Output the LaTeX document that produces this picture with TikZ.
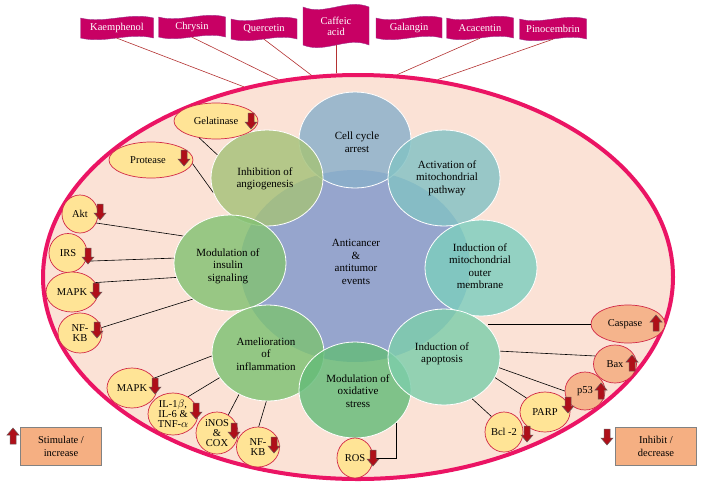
\documentclass[tikz,border=0pt]{standalone}
\usepackage{fontspec}
\setmainfont{Liberation Serif}
\usetikzlibrary{shapes.geometric}
\definecolor{rim}{RGB}{235,20,100}
\definecolor{peach}{RGB}{251,226,214}
\definecolor{flagc}{RGB}{200,0,100}
\definecolor{flagb}{RGB}{160,50,140}
\definecolor{flagline}{RGB}{180,50,50}
\definecolor{centerc}{RGB}{150,165,205}
\definecolor{cellc}{RGB}{137,175,202}
\definecolor{actc}{RGB}{131,194,196}
\definecolor{inhc}{RGB}{165,194,121}
\definecolor{ommc}{RGB}{125,206,190}
\definecolor{insc}{RGB}{131,194,115}
\definecolor{amec}{RGB}{125,194,115}
\definecolor{oxic}{RGB}{100,188,121}
\definecolor{apoc}{RGB}{125,206,171}
\definecolor{ovaly}{RGB}{255,228,150}
\definecolor{ovalo}{RGB}{245,180,140}
\definecolor{ovalb}{RGB}{210,40,70}
\definecolor{arrowf}{RGB}{175,15,25}
\definecolor{arrowd}{RGB}{110,90,90}
\definecolor{legf}{RGB}{245,175,130}
\definecolor{legb}{RGB}{130,130,130}
\tikzset{
  petal/.style={ellipse, minimum width=112, minimum height=96, inner sep=0, draw=white, line width=0.8, fill opacity=0.82},
  ptext/.style={align=center, font=\fontsize{11}{12.5}\selectfont, inner sep=0},
  oval/.style={ellipse, draw=ovalb, line width=0.7, fill=ovaly, inner sep=0, align=center, font=\fontsize{10.5}{10.5}\selectfont},
  ovalor/.style={oval, fill=ovalo},
  link/.style={draw=black, line width=0.6},
  flagst/.style={fill=flagc, draw=flagb, line width=0.4},
  flagtext/.style={text=white, align=center, inner sep=0, font=\fontsize{10.5}{11}\selectfont},
  flaglink/.style={draw=flagline, line width=0.6},
  arrowst/.style={fill=arrowf, draw=arrowd, line width=0.5},
  legbox/.style={rectangle, fill=legf, draw=legb, line width=0.9, minimum width=81, minimum height=38, align=center, inner sep=0, font=\fontsize{10.5}{13}\selectfont}
}
\newcommand\arrowdn[2]{\filldraw[arrowst] ({#1-3},{#2-8}) -- ({#1+3},{#2-8}) -- ({#1+3},{#2+1}) -- ({#1+6},{#2+1}) -- (#1,{#2+8}) -- ({#1-6},{#2+1}) -- ({#1-3},{#2+1}) -- cycle;}
\newcommand\arrowupp[2]{\filldraw[arrowst] ({#1-3},{#2+8}) -- ({#1+3},{#2+8}) -- ({#1+3},{#2-1}) -- ({#1+6},{#2-1}) -- (#1,{#2-8}) -- ({#1-6},{#2-1}) -- ({#1-3},{#2-1}) -- cycle;}
\newcommand\flag[7]{%
  \filldraw[flagst] ({#2-#4/2},{#3-#5/2}) .. controls ({#2-#4/6},{#3-#5/2+#7}) and ({#2+#4/6},{#3-#5/2-#7}) .. ({#2+#4/2},{#3-#5/2}) -- ({#2+#4/2},{#3+#5/2}) .. controls ({#2+#4/6},{#3+#5/2-#7}) and ({#2-#4/6},{#3+#5/2+#7}) .. ({#2-#4/2},{#3+#5/2}) -- cycle;
  \node[flagtext, minimum width=#4, minimum height=#5] (#1) at (#2,#3) {#6};}
\begin{document}
\begin{tikzpicture}[x=1pt,y=-1pt]
\useasboundingbox (0,0) rectangle (703,488);
\fill[white] (0,0) rectangle (703,488);
% outer ellipse
\node[ellipse, minimum width=630, minimum height=404, inner sep=0, draw=rim, line width=4, fill=peach] (outer) at (358,277) {};
% flags
\flag{kae}{117}{28}{73}{20}{Kaemphenol}{6}
\flag{chr}{192}{27}{67}{20}{Chrysin}{6}
\flag{que}{264}{29}{66}{20}{Quercetin}{6}
\flag{caf}{336}{26}{66}{38}{Caffeic\\acid}{9}
\flag{gal}{409}{28}{66}{20}{Galangin}{6}
\flag{aca}{480}{28}{67}{20}{Acacentin}{6}
\flag{pin}{553}{29}{67}{20}{Pinocembrin}{6}
\draw[flaglink] (kae.south) -- (outer.121);
\draw[flaglink] (chr.south) -- (outer.112);
\draw[flaglink] (que.south) -- (outer.103);
\draw[flaglink] (caf.south) -- (caf.south |- outer.north);
\draw[flaglink] (aca.south) -- (outer.79.5);
\draw[flaglink] (pin.south) -- (outer.68.5);
% center
\node[ellipse, minimum width=230, minimum height=192, inner sep=0, fill=centerc] (center) at (355,266) {};
% petals
\node[petal, fill=cellc] (cell) at (355,140) {};
\node[petal, fill=actc] (act) at (444,178) {};
\node[petal, fill=inhc] (inh) at (267,178) {};
\node[petal, fill=ommc] (omm) at (481,268) {};
\node[petal, fill=insc] (ins) at (230,263) {};
\node[petal, fill=amec] (ame) at (268,353) {};
\node[petal, fill=oxic] (oxi) at (355,390) {};
\node[petal, fill=apoc] (apo) at (444,357) {};
% texts
\node[ptext] (centert) at (356,262) {Anticancer\\\&\\antitumor\\events};
\node[ptext] (cellt) at (357,142) {Cell cycle\\arrest};
\node[ptext] (actt) at (447,178) {Activation of\\mitochondrial\\pathway};
\node[ptext] (inht) at (265,179) {Inhibition of\\angiogenesis};
\node[ptext] (ommt) at (480,266) {Induction of\\mitochondrial\\outer\\membrane};
\node[ptext] (inst) at (228,266) {Modulation of\\insulin\\signaling};
\node[ptext] (amet) at (266,354) {Amelioration\\of\\inflammation};
\node[ptext] (oxit) at (358,391) {Modulation of\\oxidative\\stress};
\node[ptext] (apot) at (442,354) {Induction of\\apoptosis};
% small ovals
\node[oval, minimum width=84, minimum height=36] (gel) at (216,121) {Gelatinase};
\node[oval, minimum width=84, minimum height=36] (pro) at (151,160) {\hspace*{-6pt}Protease};
\node[oval, minimum width=36, minimum height=38] (akt) at (80,214) {Akt};
\node[oval, minimum width=38, minimum height=39] (irs) at (68,253) {IRS};
\node[oval, minimum width=52, minimum height=40] (mapka) at (72,292) {MAPK};
\node[oval, minimum width=44, minimum height=40] (nfkba) at (80,333) {NF-\\KB};
\node[oval, minimum width=50, minimum height=40] (mapkb) at (132,388) {MAPK};
\node[oval, minimum width=50, minimum height=42, font=\fontsize{10.5}{10}\selectfont] (il) at (173,414) {IL-1$\beta$,\\IL-6 \&\\TNF-$\alpha$};
\node[oval, minimum width=42, minimum height=42, font=\fontsize{10.5}{10}\selectfont] (inos) at (217,433) {iNOS\\\&\\COX};
\node[oval, minimum width=43, minimum height=40] (nfkbb) at (258,447) {NF-\\KB};
\node[oval, minimum width=36, minimum height=40] (ros) at (355,458) {ROS};
\node[oval, minimum width=38, minimum height=40] (bcl) at (504,432) {Bcl -2};
\node[oval, minimum width=50, minimum height=40] (parp) at (545,412) {PARP};
\node[ovalor, minimum width=40, minimum height=38] (p53) at (585,391) {p53};
\node[ovalor, minimum width=43, minimum height=38] (bax) at (615,364) {Bax};
\node[ovalor, minimum width=74, minimum height=38] (casp) at (628,324) {\hspace*{-6pt}Caspase};
% connectors
\draw[link] (gel.-135) -- (inh.155);
\draw[link] (pro.-5) -- (inh.195);
\draw[link] (akt.-29) -- (ins.150);
\draw[link] (irs.-25) -- (ins.175);
\draw[link] (mapka.22) -- (ins.195);
\draw[link] (nfkba.14) -- (ins.224);
\draw[link] (mapkb.24) -- (ame.183);
\draw[link] (il.49) -- (ame.207);
\draw[link] (inos.58) -- (ame.235);
\draw[link] (nfkbb.88) -- (ame.268);
\draw[link] (oxi.-39) |- (ros.east);
\draw[link] (bcl.129) -- (apo.-56);
\draw[link] (parp.143) -- (apo.-22);
\draw[link] (p53.180) -- (apo.-11);
\draw[link] (bax.158) -- (apo.6);
\draw[link] (casp.west) -- (casp.west -| apo.35);
% arrows
\arrowdn{251}{121}
\arrowdn{184}{158}
\arrowdn{100}{212}
\arrowdn{88}{256}
\arrowdn{96}{291}
\arrowdn{97}{330}
\arrowdn{155}{386}
\arrowdn{196}{411}
\arrowdn{234}{431}
\arrowdn{274}{445}
\arrowdn{373}{458}
\arrowdn{527}{434}
\arrowdn{568}{405}
\arrowupp{601}{391}
\arrowupp{632}{363}
\arrowupp{656}{323}
% legend
\node[legbox] (stim) at (61,446) {Stimulate /\\increase};
\node[legbox] (inhib) at (656,446) {Inhibit /\\decrease};
\arrowupp{13}{436}
\arrowdn{607}{437}
\end{tikzpicture}
\end{document}
